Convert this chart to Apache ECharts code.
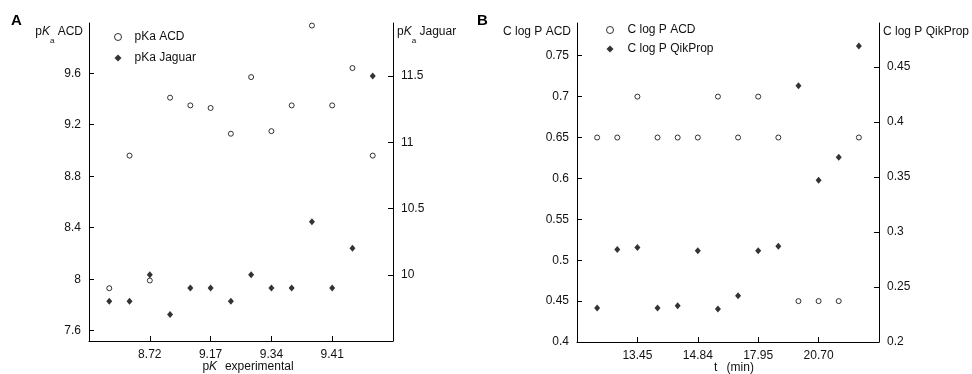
<!DOCTYPE html>
<html><head><meta charset="utf-8">
<script src="https://cdn.jsdelivr.net/npm/echarts@6/dist/echarts.min.js"></script>
<style>html,body{margin:0;padding:0;background:#fff}#c{width:972px;height:374px}</style>
</head><body><div id="c"></div>
<script>
// ---- data ----
const sampleIndex = [1,2,3,4,5,6,7,8,9,10,11,12,13,14];
// Panel A
const pKaACD    = [7.93,8.96,7.99,9.41,9.35,9.33,9.13,9.57,9.15,9.35,9.97,9.35,9.64,8.96];
const pKaJaguar = [9.8,9.8,10.0,9.7,9.9,9.9,9.8,10.0,9.9,9.9,10.4,9.9,10.2,11.5];
const xTickIndexA = [3,6,9,12];
const xTickLabelsA = ['8.72','9.17','9.34','9.41'];
const yTicksALeft = [7.6,8,8.4,8.8,9.2,9.6];
const yTicksARight = [10,10.5,11,11.5];
// Panel B
const clogPACD     = [0.65,0.65,0.70,0.65,0.65,0.65,0.70,0.65,0.70,0.65,0.45,0.45,0.45,0.65];
const clogPQikProp = [0.231,0.284,0.286,0.231,0.233,0.283,0.230,0.242,0.283,0.287,0.433,0.347,0.368,0.469];
const xTickIndexB = [3,6,9,12];
const xTickLabelsB = ['13.45','14.84','17.95','20.70'];
const yTicksBLeft = [0.4,0.45,0.5,0.55,0.6,0.65,0.7,0.75];
const yTicksBRight = [0.2,0.25,0.3,0.35,0.4,0.45];

const FONT = 'Liberation Sans, Arial, sans-serif';
const TXT = '#111';

function xAx(grid, ticks, labels, name, shift) {
  return {
    type: 'value', gridIndex: grid, min: 0, max: 15, position: 'bottom',
    axisLine: {show: true, onZero: false, lineStyle: {color: '#000', width: 1}},
    axisTick: {show: true, inside: true, length: 5, customValues: ticks, lineStyle: {color: '#000'}},
    axisLabel: {customValues: ticks, color: TXT, fontSize: 12, fontFamily: FONT, margin: 8,
      formatter: v => labels[ticks.indexOf(Math.round(v))] || ''},
    splitLine: {show: false},
    name: name, nameLocation: 'middle', nameGap: 13, nameMoveOverlap: false,
    nameTextStyle: {color: TXT, fontSize: 12, fontFamily: FONT, lineHeight: 26, verticalAlign: 'top',
      padding: [0, 0, 0, shift],
      rich: {k: {fontStyle: 'italic', fontSize: 12, fontFamily: FONT, color: TXT, lineHeight: 26},
             s: {fontSize: 8, fontFamily: FONT, color: TXT, lineHeight: 8, verticalAlign: 'bottom'}}}
  };
}
function yAx(grid, pos, min, max, ticks, name) {
  return {
    type: 'value', gridIndex: grid, position: pos, min: min, max: max,
    axisLine: {show: true, onZero: false, lineStyle: {color: '#000', width: 1}},
    axisTick: {show: true, inside: true, length: 5, customValues: ticks, lineStyle: {color: '#000'}},
    axisLabel: {customValues: ticks, color: TXT, fontSize: 12, fontFamily: FONT, margin: 8},
    splitLine: {show: false},
    name: name, nameLocation: 'end', nameGap: -9, nameMoveOverlap: false,
    nameTextStyle: {color: TXT, fontSize: 12, fontFamily: FONT, lineHeight: 26,
      align: pos === 'left' ? 'right' : 'left', verticalAlign: 'middle',
      padding: pos === 'left' ? [0, 6, 0, 0] : [0, 0, 0, 4],
      rich: {k: {fontStyle: 'italic', fontSize: 12, fontFamily: FONT, color: TXT, lineHeight: 26},
             s: {fontSize: 8, fontFamily: FONT, color: TXT, lineHeight: 8, verticalAlign: 'bottom'}}}
  };
}
const pts = arr => sampleIndex.map((x, i) => [x, arr[i]]);
const openStyle = {color: '#fff', borderColor: '#000', borderWidth: 1};
const fillStyle = {color: '#000'};

const chart = echarts.init(document.getElementById('c'), null, {renderer: 'canvas'});
chart.setOption({
  animation: false,
  backgroundColor: '#fff',
  textStyle: {fontFamily: FONT},
  graphic: [
    {type: 'text', left: 11, top: 13, style: {text: 'A', font: 'bold 15px ' + FONT, fill: '#000'}},
    {type: 'text', left: 477, top: 13, style: {text: 'B', font: 'bold 15px ' + FONT, fill: '#000'}}
  ],
  grid: [
    {left: 89, right: 579, top: 23, bottom: 33, containLabel: false, outerBoundsMode: 'none'},
    {left: 577, right: 93, top: 23, bottom: 32, containLabel: false, outerBoundsMode: 'none'}
  ],
  legend: [
    {data: ['pKa ACD', 'pKa Jaguar'], orient: 'vertical', left: 109, top: 26, itemWidth: 7, itemHeight: 7,
     itemGap: 9, itemStyle: {borderWidth: 1},
     textStyle: {color: TXT, fontSize: 12, fontFamily: FONT, padding: [0, 0, 0, 8]}},
    {data: ['C log P ACD', 'C log P QikProp'], orient: 'vertical', left: 601, top: 19, itemWidth: 7, itemHeight: 7,
     itemGap: 7, itemStyle: {borderWidth: 1},
     textStyle: {color: TXT, fontSize: 12, fontFamily: FONT, padding: [0, 0, 0, 9]}}
  ],
  xAxis: [
    xAx(0, xTickIndexA, xTickLabelsA, 'p{k|K}{s|a} experimental', 14),
    xAx(1, xTickIndexB, xTickLabelsB, 't{s|R} (min)', 12)
  ],
  yAxis: [
    yAx(0, 'left', 7.52, 9.99, yTicksALeft, 'p{k|K}{s|a} ACD'),
    yAx(0, 'right', 9.5, 11.9, yTicksARight, 'p{k|K}{s|a} Jaguar'),
    yAx(1, 'left', 0.4, 0.79, yTicksBLeft, 'C log P ACD'),
    yAx(1, 'right', 0.2, 0.49, yTicksBRight, 'C log P QikProp')
  ],
  series: [
    {name: 'pKa ACD', type: 'scatter', xAxisIndex: 0, yAxisIndex: 0, symbol: 'circle', symbolSize: 5,
     itemStyle: openStyle, data: pts(pKaACD)},
    {name: 'pKa Jaguar', type: 'scatter', xAxisIndex: 0, yAxisIndex: 1, symbol: 'diamond', symbolSize: [6, 7],
     itemStyle: fillStyle, data: pts(pKaJaguar)},
    {name: 'C log P ACD', type: 'scatter', xAxisIndex: 1, yAxisIndex: 2, symbol: 'circle', symbolSize: 5,
     itemStyle: openStyle, data: pts(clogPACD)},
    {name: 'C log P QikProp', type: 'scatter', xAxisIndex: 1, yAxisIndex: 3, symbol: 'diamond', symbolSize: [6, 7],
     itemStyle: fillStyle, data: pts(clogPQikProp)}
  ]
});
</script></body></html>
